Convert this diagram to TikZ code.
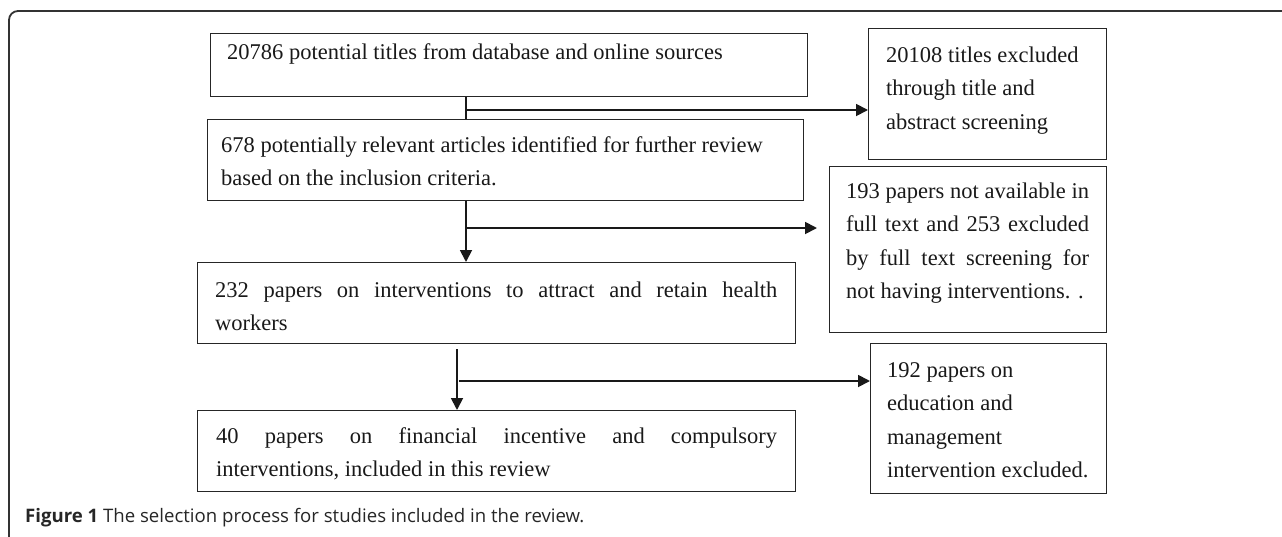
\documentclass[tikz,border=0pt]{standalone}
\usepackage{fontspec}
\setmainfont{Liberation Serif}
\newfontfamily\capfont{Open Sans}
\usetikzlibrary{arrows.meta}
\newcommand{\jl}[2]{\makebox[#1][s]{\spaceskip=0.25em plus 1fil\relax #2}}
\begin{document}
\begin{tikzpicture}[x=1pt,y=-1pt,
  box/.style={draw=black!85, line width=1.4pt, inner sep=0pt, anchor=north west},
  txt/.style={inner sep=0pt, anchor=base west, align=left, text=black!90,
    font=\fontsize{22.5}{33.5}\selectfont,
    execute at begin node={\spaceskip=0pt\xspaceskip=0pt\relax}},
  conn/.style={line width=1.8pt, draw=black!90},
  arr/.style={conn, -{Triangle[length=12pt,width=12pt]}},
  frame/.style={draw=black!80, line width=1.8pt, rounded corners=9pt}]
\useasboundingbox (0,0) rectangle (1282,536);
\begin{scope}
\clip (0,0) rectangle (1282,536);
\draw[frame] (9,560) -- (9,11) -- (1300,11);
\end{scope}
% boxes
\node[box, minimum width=597pt, minimum height=63pt]  (A) at (210,33) {};
\node[box, minimum width=596pt, minimum height=81pt]  (B) at (207,119) {};
\node[box, minimum width=238pt, minimum height=131pt] (C) at (868,28) {};
\node[box, minimum width=277pt, minimum height=166pt] (D) at (829,166) {};
\node[box, minimum width=598pt, minimum height=81pt]  (F) at (197,262) {};
\node[box, minimum width=598pt, minimum height=81pt]  (G) at (197,410) {};
\node[box, minimum width=236pt, minimum height=150pt] (E) at (870,343) {};
% texts
\node[txt, text width=575pt] (At) at (227,59) {20786 potential titles from database and online sources};
\node[txt, text width=578pt] (Bt) at (221,152) {678 potentially relevant articles identified for further review\\based on the inclusion criteria.};
\node[txt, text width=215pt] (Ct) at (886,62) {20108 titles excluded\\through title and\\abstract screening};
\node[txt, text width=258pt] (Dt) at (846,198) {\jl{243pt}{193 papers not available in}\\\jl{243pt}{full text and 253 excluded}\\\jl{243pt}{by full text screening for}\\not having interventions. .};
\node[txt, text width=575pt] (Ft) at (215,297) {\jl{562pt}{232 papers on interventions to attract and retain health}\\workers};
\node[txt, text width=575pt] (Gt) at (216,443) {\jl{561pt}{40 papers on financial incentive and compulsory}\\interventions, included in this review};
\node[txt, text width=218pt] (Et) at (887,377) {192 papers on\\education and\\management\\intervention excluded.};
% connectors
\coordinate (j1) at (466,110);
\coordinate (j2) at (466,228);
\coordinate (d2) at (817,228);
\coordinate (s3) at (457,349);
\coordinate (j3) at (459,381);
\draw[conn] (A.south -| j1) -- (B.north -| j1);
\draw[arr] (j1) -- (C.west |- j1);
\draw[arr] (B.south -| j2) -- (F.north -| j2);
\draw[arr] (j2) -- (d2);
\draw[arr] (s3) -- (G.north -| s3);
\draw[arr] (j3) -- (E.west |- j3);
% caption
\node[inner sep=0pt, anchor=base west, font=\capfont\fontsize{18.6}{22}\selectfont, text=black!85] (cap) at (25,522) {\textbf{Figure 1} The selection process for studies included in the review.};
\end{tikzpicture}
\end{document}
